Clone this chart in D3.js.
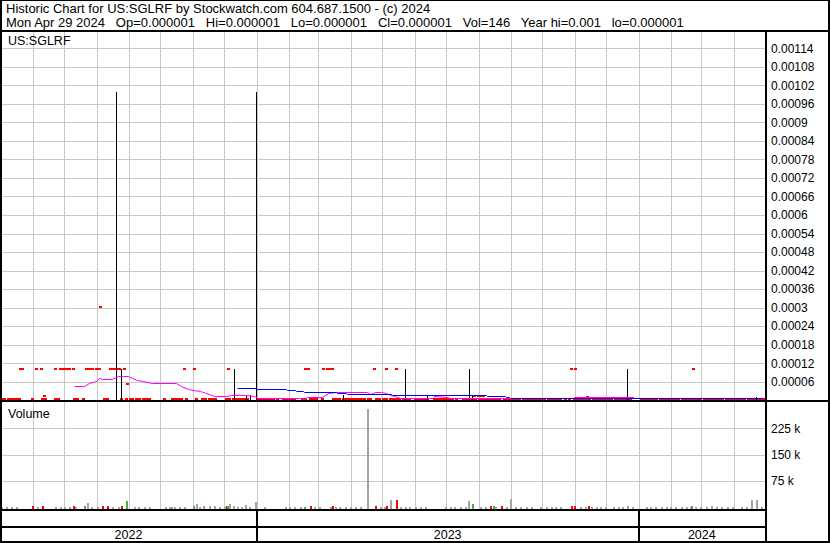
<!DOCTYPE html>
<html><head><meta charset="utf-8">
<script src="https://cdn.jsdelivr.net/npm/d3@7"></script>
<style>
html,body{margin:0;padding:0;background:#fff;}
svg{display:block;}
text{font-family:"Liberation Sans",Arial,sans-serif;fill:#000;}
</style>
</head><body>
<svg id="chart" width="830" height="543"></svg>
<script>
// ---------------- DATA ----------------
const titleLine = "Historic Chart for US:SGLRF by Stockwatch.com 604.687.1500 - (c) 2024";
const quoteParts = ["Mon Apr 29 2024","Op=0.000001","Hi=0.000001","Lo=0.000001","Cl=0.000001","Vol=146","Year hi=0.001","lo=0.000001"];
const symbol = "US:SGLRF";
const volumeTitle = "Volume";

const priceTicks = [0.00006,0.00012,0.00018,0.00024,0.0003,0.00036,0.00042,0.00048,0.00054,0.0006,0.00066,0.00072,0.00078,0.00084,0.0009,0.00096,0.00102,0.00108,0.00114];
const priceTickLabels = ["0.00006","0.00012","0.00018","0.00024","0.0003","0.00036","0.00042","0.00048","0.00054","0.0006","0.00066","0.00072","0.00078","0.00084","0.0009","0.00096","0.00102","0.00108","0.00114"];
const volumeTicks = [75000,150000,225000];
const volumeTickLabels = ["75 k","150 k","225 k"];
const years = ["2022","2023","2024"];
const dateStart = "2022-05-01", dateEnd = "2024-05-01";

// daily closes at the low (0.000001)
const lowClose = 0.000001;
const lowCloseDates = ["2022-05-02","2022-05-05","2022-05-08","2022-05-11","2022-05-14","2022-05-17","2022-05-19","2022-05-31","2022-06-10","2022-06-13","2022-06-22","2022-06-25","2022-07-10","2022-07-13","2022-07-19","2022-08-08","2022-08-11","2022-08-24","2022-08-29","2022-09-02","2022-09-04","2022-09-08","2022-09-11","2022-09-14","2022-09-17","2022-09-20","2022-10-04","2022-10-12","2022-10-15","2022-10-18","2022-10-21","2022-10-25","2022-11-04","2022-11-10","2022-11-13","2022-11-16","2022-11-19","2022-11-22","2022-12-03","2022-12-06","2022-12-09","2022-12-11","2022-12-14","2022-12-17","2022-12-20","2022-12-23",
"2023-01-02","2023-01-05","2023-01-08","2023-01-11","2023-01-14","2023-01-17","2023-01-20","2023-01-26","2023-01-29","2023-02-01","2023-02-04","2023-02-06","2023-02-13","2023-02-16","2023-02-21","2023-02-24","2023-02-27","2023-03-04","2023-03-15","2023-03-18","2023-03-21","2023-03-24","2023-03-27","2023-03-30","2023-04-02","2023-04-05","2023-04-08","2023-04-11","2023-04-14","2023-04-17","2023-04-19","2023-04-25","2023-04-28","2023-05-02","2023-05-05","2023-05-08","2023-05-11","2023-05-14","2023-05-17","2023-05-21","2023-05-24","2023-05-27","2023-06-01","2023-06-04","2023-06-07","2023-06-10","2023-06-13","2023-06-19","2023-06-22","2023-06-25","2023-06-28","2023-07-01","2023-07-04","2023-07-07","2023-07-10","2023-07-17","2023-07-20","2023-07-23","2023-07-26","2023-07-29","2023-08-01","2023-08-04","2023-08-07","2023-08-09","2023-08-12","2023-08-15","2023-08-18","2023-08-21","2023-08-25","2023-08-28","2023-08-31","2023-09-03","2023-09-06","2023-09-09","2023-09-12","2023-09-15","2023-09-18","2023-09-21","2023-09-24","2023-09-27","2023-09-30","2023-10-03","2023-10-06","2023-10-09","2023-10-12","2023-10-15","2023-10-18","2023-10-23","2023-10-26","2023-10-31","2023-11-03","2023-11-06","2023-11-09","2023-11-12","2023-11-15","2023-11-18","2023-11-21","2023-11-24","2023-11-27","2023-11-30","2023-12-03","2023-12-06","2023-12-09","2023-12-12","2023-12-15","2023-12-18","2023-12-21","2023-12-24",
"2024-01-03","2024-01-06","2024-01-09","2024-01-12","2024-01-15","2024-01-18","2024-01-21","2024-01-24","2024-01-27","2024-01-30","2024-02-02","2024-02-05","2024-02-08","2024-02-11","2024-02-14","2024-02-17","2024-02-20","2024-02-23","2024-02-26","2024-02-29","2024-03-03","2024-03-06","2024-03-09","2024-03-12","2024-03-15","2024-03-18","2024-03-21","2024-03-24","2024-03-27","2024-03-30","2024-04-02","2024-04-05","2024-04-08","2024-04-11","2024-04-14","2024-04-17","2024-04-20","2024-04-23","2024-04-26","2024-04-29"];

// daily closes near 0.0001
const midClose = 0.000097;
const midCloseDates = ["2022-05-20","2022-05-22","2022-06-04","2022-06-09","2022-06-22","2022-06-27","2022-06-30","2022-07-03","2022-07-06","2022-07-09","2022-07-22","2022-07-25","2022-07-28","2022-07-31","2022-08-03","2022-08-14","2022-08-16","2022-08-18","2022-08-20","2022-08-22","2022-08-27","2022-10-24","2022-11-02","2022-12-05","2023-02-16","2023-02-19","2023-03-05","2023-03-09","2023-03-11","2023-03-14","2023-04-23","2023-05-05","2023-05-14","2023-10-28","2023-11-01","2024-02-22"];

// other closes [date, value]
const otherCloses = [["2022-06-12",0.00001],["2022-08-04",0.0003],["2022-08-30",0.000049],["2023-07-28",0.000011],["2023-07-31",0.000011],["2023-08-03",0.000011],["2023-08-05",0.000011],["2023-11-13",0.000008]];

// high-low bars [date, high, low]
const hlBars = [["2022-08-20",0.001,0.000001],["2022-08-24",0.0001,0.000001],["2022-12-10",0.0001,0.000001],["2022-12-22",0.000017,0.000001],["2022-12-26",0.000017,0.000001],["2022-12-31",0.001,0.000001],["2023-03-24",0.000016,0.000001],["2023-05-23",0.0001,0.000001],["2023-06-13",0.000015,0.000001],["2023-07-23",0.0001,0.000001],["2023-07-26",0.000015,0.000001],["2023-12-21",0.0001,0.000001],["2024-04-22",0.000011,0.000001]];

// short moving average (magenta)
const maShort = [["2022-07-10",4.37e-5],["2022-07-20",4.59e-5],["2022-07-25",5.47e-5],["2022-07-31",6.21e-5],["2022-08-03",7.08e-5],["2022-08-06",6.76e-5],["2022-08-16",6.76e-5],["2022-08-21",7.6e-5],["2022-08-26",7.73e-5],["2022-08-31",7.6e-5],["2022-09-04",6.95e-5],["2022-09-09",6.53e-5],["2022-09-14",5.98e-5],["2022-09-23",5.56e-5],["2022-10-16",5.34e-5],["2022-10-21",4.59e-5],["2022-10-27",3.53e-5],["2022-11-01",3.07e-5],["2022-11-08",2.75e-5],["2022-11-14",2.23e-5],["2022-11-21",1.26e-5],["2022-12-03",1.26e-5],["2022-12-07",1.58e-5],["2022-12-21",1.58e-5],["2022-12-29",1.13e-5],["2023-01-02",6e-6],["2023-02-11",6e-6],["2023-02-16",3e-6],["2023-02-18",9.4e-6],["2023-03-04",9.4e-6],["2023-03-10",2.23e-5],["2023-03-18",2.55e-5],["2023-04-16",2.55e-5],["2023-04-19",1.9e-5],["2023-04-24",2.55e-5],["2023-04-30",2.55e-5],["2023-05-05",2.23e-5],["2023-05-08",1.58e-5],["2023-05-13",1.26e-5],["2023-05-18",6e-6],["2023-06-18",6e-6],["2023-06-19",1.26e-5],["2023-07-02",9.4e-6],["2023-07-05",4e-6],["2023-10-30",4e-6],["2023-10-31",8e-6],["2023-12-27",8e-6],["2023-12-28",4e-6],["2024-04-29",4e-6]];

// long moving average (blue)
const maLong = [["2022-12-13",3.85e-5],["2022-12-31",3.85e-5],["2023-01-01",3.53e-5],["2023-01-29",3.53e-5],["2023-01-30",3.2e-5],["2023-02-07",3.2e-5],["2023-02-08",2.88e-5],["2023-02-14",2.88e-5],["2023-02-15",2.55e-5],["2023-03-18",2.55e-5],["2023-03-19",2.23e-5],["2023-03-27",2.23e-5],["2023-03-28",1.9e-5],["2023-05-09",1.9e-5],["2023-05-10",1.58e-5],["2023-08-08",1.58e-5],["2023-08-09",1.26e-5],["2023-08-26",1.26e-5],["2023-08-27",9.4e-6],["2023-08-30",9.4e-6],["2023-08-31",6e-6],["2024-04-28",6e-6]];

// volume [date, shares, direction u/d/n]
const volume = [["2022-05-02",2000,"n"],["2022-05-06",1500,"n"],["2022-05-11",2000,"n"],["2022-05-16",1500,"n"],["2022-05-31",2500,"d"],["2022-06-05",1500,"n"],["2022-06-10",2500,"d"],["2022-06-22",1500,"n"],["2022-06-27",2000,"n"],["2022-07-01",1500,"n"],["2022-07-06",2000,"n"],["2022-07-09",2500,"d"],["2022-07-11",1500,"n"],["2022-07-20",3000,"u"],["2022-07-23",12000,"n"],["2022-07-27",2000,"n"],["2022-08-01",1500,"n"],["2022-08-06",2500,"d"],["2022-08-11",2500,"d"],["2022-08-16",1500,"n"],["2022-08-21",2000,"n"],["2022-08-24",2500,"d"],["2022-08-29",18500,"u"],["2022-09-06",1500,"n"],["2022-09-10",2000,"n"],["2022-09-15",1500,"n"],["2022-09-20",2000,"n"],["2022-10-05",1500,"n"],["2022-10-09",2000,"n"],["2022-10-11",2000,"n"],["2022-10-14",1500,"n"],["2022-10-19",2000,"n"],["2022-10-24",1500,"n"],["2022-11-01",2500,"u"],["2022-11-04",10000,"n"],["2022-11-07",2000,"n"],["2022-11-11",3000,"n"],["2022-11-16",3000,"n"],["2022-11-21",3000,"n"],["2022-11-26",1500,"n"],["2022-12-01",2000,"n"],["2022-12-03",2500,"d"],["2022-12-04",4000,"u"],["2022-12-06",10000,"n"],["2022-12-09",4000,"n"],["2022-12-13",1500,"n"],["2022-12-17",2000,"n"],["2022-12-21",7000,"n"],["2022-12-25",1500,"n"],["2022-12-30",15600,"n"],["2023-01-08",2000,"n"],["2023-01-28",1500,"n"],["2023-02-01",2000,"n"],["2023-02-06",1500,"n"],["2023-02-11",2000,"n"],["2023-02-15",2000,"u"],["2023-02-21",3000,"d"],["2023-02-25",1500,"n"],["2023-03-02",2000,"n"],["2023-03-12",1500,"n"],["2023-03-14",2500,"d"],["2023-03-17",2000,"n"],["2023-03-21",1500,"n"],["2023-03-26",2000,"n"],["2023-03-31",1500,"n"],["2023-04-05",2000,"n"],["2023-04-10",1500,"n"],["2023-04-16",280000,"n"],["2023-04-24",2500,"d"],["2023-04-29",1500,"n"],["2023-05-03",2000,"n"],["2023-05-05",2500,"d"],["2023-05-08",21000,"n"],["2023-05-14",21000,"d"],["2023-05-18",2000,"n"],["2023-05-23",1500,"n"],["2023-05-27",2000,"n"],["2023-06-01",1500,"n"],["2023-06-06",2000,"n"],["2023-06-11",1500,"n"],["2023-06-30",2000,"n"],["2023-07-05",1500,"n"],["2023-07-09",2000,"n"],["2023-07-14",1500,"n"],["2023-07-19",2000,"n"],["2023-07-22",18000,"n"],["2023-07-26",10000,"u"],["2023-08-02",1500,"n"],["2023-08-07",2000,"n"],["2023-08-12",2500,"d"],["2023-08-15",2500,"u"],["2023-08-17",1500,"n"],["2023-08-22",2500,"d"],["2023-08-27",2000,"n"],["2023-08-31",24000,"n"],["2023-09-05",1500,"n"],["2023-09-10",2000,"n"],["2023-09-15",1500,"n"],["2023-09-20",2000,"n"],["2023-09-29",1500,"n"],["2023-10-04",2000,"n"],["2023-10-09",1500,"n"],["2023-10-13",2000,"n"],["2023-10-18",1500,"n"],["2023-10-28",2500,"d"],["2023-10-31",2500,"d"],["2023-11-06",2000,"n"],["2023-11-11",1500,"n"],["2023-11-14",2500,"d"],["2023-11-16",2000,"n"],["2023-11-21",1500,"n"],["2023-11-25",2000,"n"],["2023-11-30",1500,"n"],["2023-12-07",2000,"n"],["2023-12-12",1500,"n"],["2023-12-16",2000,"n"],["2023-12-21",2500,"n"],["2023-12-26",1500,"n"],["2024-01-08",2000,"n"],["2024-01-12",1500,"n"],["2024-01-17",2000,"n"],["2024-01-22",1500,"n"],["2024-01-27",2000,"n"],["2024-01-31",1500,"n"],["2024-02-05",2000,"n"],["2024-02-10",1500,"n"],["2024-02-15",2000,"n"],["2024-02-19",1500,"n"],["2024-02-20",2500,"u"],["2024-02-24",2000,"n"],["2024-02-29",1500,"n"],["2024-03-05",2000,"n"],["2024-03-10",2500,"n"],["2024-03-15",1500,"n"],["2024-03-20",2000,"n"],["2024-03-25",1500,"n"],["2024-03-30",2000,"n"],["2024-04-08",1500,"n"],["2024-04-13",2000,"n"],["2024-04-17",21000,"n"],["2024-04-22",21000,"n"],["2024-04-27",1500,"n"]];

// ---------------- DRAW ----------------
const parse = d3.timeParse("%Y-%m-%d");
const svg = d3.select("#chart");
const W = 830, H = 543;
const plotL = 2, plotR = 765;
const priceTop = 32, priceBot = 400;
const volTop = 402, volBot = 509;
const GRID = "#c8c8c8";
const volColor = {n:"#a4a4a4", u:"#4cae4c", d:"#ff0000"};

svg.append("rect").attr("width",W).attr("height",H).attr("fill","#fff");

const x = d3.scaleTime().domain([parse(dateStart), parse(dateEnd)]).range([0.3, 765.3]);
const xr = x.copy().interpolate(d3.interpolateRound);
const yP = d3.scaleLinear().domain([0, 0.00114]).range([400.2, 48.3]);
const yPr = yP.copy().interpolate(d3.interpolateRound);
const yV = d3.scaleLinear().domain([0, 225000]).range([507.3, 428.3]);
const yVr = yV.copy().interpolate(d3.interpolateRound);

const monthStarts = d3.timeMonth.range(parse("2022-06-01"), parse(dateEnd));

// clip paths
const defs = svg.append("defs");
defs.append("clipPath").attr("id","cp").append("rect").attr("x",plotL).attr("y",priceTop).attr("width",plotR-plotL).attr("height",priceBot-priceTop);
defs.append("clipPath").attr("id","cv").append("rect").attr("x",plotL).attr("y",volTop).attr("width",plotR-plotL).attr("height",volBot-volTop);

// ---- price grid
const gP = svg.append("g").attr("clip-path","url(#cp)");
gP.append("g").attr("transform",`translate(0,${priceBot})`)
  .call(d3.axisBottom(xr).tickValues(monthStarts).tickSize(-(priceBot-priceTop)).tickFormat(""))
  .call(g=>{g.select(".domain").remove(); g.selectAll("line").attr("stroke",GRID);});
gP.append("g").attr("transform",`translate(${plotL},0)`)
  .call(d3.axisRight(yPr).tickValues(priceTicks).tickSize(plotR-plotL).tickFormat(""))
  .call(g=>{g.select(".domain").remove(); g.selectAll("line").attr("stroke",GRID);});

// ---- volume grid
const gV = svg.append("g").attr("clip-path","url(#cv)");
gV.append("g").attr("transform",`translate(0,${volBot})`)
  .call(d3.axisBottom(xr).tickValues(monthStarts).tickSize(-(volBot-volTop)).tickFormat(""))
  .call(g=>{g.select(".domain").remove(); g.selectAll("line").attr("stroke",GRID);});
gV.append("g").attr("transform",`translate(${plotL},0)`)
  .call(d3.axisRight(yVr).tickValues(volumeTicks).tickSize(plotR-plotL).tickFormat(""))
  .call(g=>{g.select(".domain").remove(); g.selectAll("line").attr("stroke",GRID);});

// ---- closes (red squares)
const closes = lowCloseDates.map(d=>[d, lowClose])
  .concat(midCloseDates.map(d=>[d, midClose]))
  .concat(otherCloses);
gP.append("g").attr("shape-rendering","crispEdges").selectAll("rect").data(closes).join("rect")
  .attr("x", d=>xr(parse(d[0]))-1).attr("y", d=>Math.round(yP(d[1])-2))
  .attr("width",3).attr("height",2).attr("fill","#ff0000");

// ---- high-low bars
gP.append("g").selectAll("line").data(hlBars).join("line")
  .attr("x1", d=>xr(parse(d[0]))+0.5).attr("x2", d=>xr(parse(d[0]))+0.5)
  .attr("y1", d=>yPr(d[1])).attr("y2", d=>yPr(d[2]))
  .attr("stroke","#000").attr("stroke-width",1);

// ---- moving averages
const lineGen = d3.line().x(d=>xr(parse(d[0]))+0.5).y(d=>Math.floor(yP(d[1]))+0.5);
gP.append("path").datum(maShort).attr("d",lineGen).attr("fill","none").attr("stroke","#ff00ff").attr("stroke-width",1);
gP.append("path").datum(maLong).attr("d",lineGen).attr("fill","none").attr("stroke","#0000ff").attr("stroke-width",1);

// ---- volume bars
gV.append("g").attr("shape-rendering","crispEdges").selectAll("rect").data(volume).join("rect")
  .attr("x", d=>xr(parse(d[0]))).attr("width",2)
  .attr("y", d=>Math.min(yVr(d[1]), volBot-1))
  .attr("height", d=>volBot - Math.min(yVr(d[1]), volBot-1))
  .attr("fill", d=>volColor[d[2]]);

// ---- frame lines
const frame = svg.append("g").attr("fill","#000").attr("shape-rendering","crispEdges");
frame.append("rect").attr("x",0).attr("y",0).attr("width",W).attr("height",1);
frame.append("rect").attr("x",0).attr("y",0).attr("width",2).attr("height",H);
frame.append("rect").attr("x",W-2).attr("y",0).attr("width",2).attr("height",H);
frame.append("rect").attr("x",0).attr("y",H-2).attr("width",W).attr("height",2);
frame.append("rect").attr("x",0).attr("y",30).attr("width",W).attr("height",2);
frame.append("rect").attr("x",plotR).attr("y",30).attr("width",2).attr("height",H-30);
frame.append("rect").attr("x",0).attr("y",priceBot).attr("width",W).attr("height",2);
frame.append("rect").attr("x",0).attr("y",volBot).attr("width",plotR).attr("height",2);
frame.append("rect").attr("x",0).attr("y",526).attr("width",plotR).attr("height",2);
// year dividers
const yearStarts = years.slice(1).map(yv=>parse(yv+"-01-01"));
frame.selectAll(".yd").data(yearStarts).join("rect").attr("class","yd")
  .attr("x", d=>xr(d)-1).attr("y",volBot).attr("width",2).attr("height",H-volBot);

// ---- year labels
svg.append("g").selectAll("text").data(years).join("text")
  .attr("x", yv=>{
    const a = Math.max(x(parse(yv+"-01-01")), x(parse(dateStart)));
    const b = Math.min(x(parse((+yv+1)+"-01-01")), plotR);
    return (a+b)/2;
  })
  .attr("y", 539).attr("text-anchor","middle").attr("font-size","12.5px").text(d=>d);

// ---- right axes
svg.append("g").attr("transform",`translate(${plotR+1},0)`)
  .call(d3.axisRight(yP).tickValues(priceTicks).tickSize(0).tickPadding(5).tickFormat((d,i)=>priceTickLabels[i]))
  .call(g=>{g.select(".domain").remove(); g.selectAll("text").attr("font-size","12px").attr("fill","#000");})
  .attr("font-family",null);
svg.append("g").attr("transform",`translate(${plotR+1},0)`)
  .call(d3.axisRight(yV).tickValues(volumeTicks).tickSize(0).tickPadding(5).tickFormat((d,i)=>volumeTickLabels[i]))
  .call(g=>{g.select(".domain").remove(); g.selectAll("text").attr("font-size","12px").attr("fill","#000");})
  .attr("font-family",null);

// ---- header texts
svg.append("text").attr("x",6).attr("y",13).attr("font-size","13px").text(titleLine);
svg.append("text").attr("x",6).attr("y",27).attr("font-size","13px")
  .style("white-space","pre").attr("xml:space","preserve")
  .text(quoteParts.join("   "));
svg.append("text").attr("x",8).attr("y",45).attr("font-size","12.5px").text(symbol);
svg.append("text").attr("x",8).attr("y",418).attr("font-size","12.5px").text(volumeTitle);
</script>
</body></html>
